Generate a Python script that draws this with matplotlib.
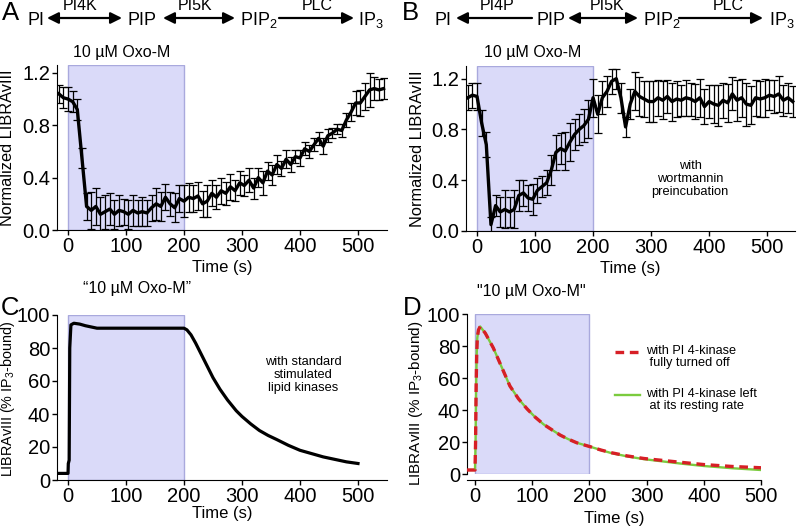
import numpy as np
import matplotlib
matplotlib.use('Agg')
import matplotlib.pyplot as plt
from matplotlib.lines import Line2D
from matplotlib.patches import FancyArrowPatch

plt.rcParams['font.family'] = ['Liberation Sans', 'DejaVu Sans']
plt.rcParams['mathtext.fontset'] = 'custom'
plt.rcParams['mathtext.rm'] = 'Liberation Sans'
plt.rcParams['mathtext.it'] = 'Liberation Sans:italic'
plt.rcParams['mathtext.default'] = 'regular'

# ---- data ----
t_exp = np.arange(-16, 545, 8)

a_mean = [1.04, 1.01, 1.00, 0.98, 0.92, 0.55, 0.18, 0.15, 0.18, 0.12,
          0.14, 0.16, 0.12, 0.15, 0.14, 0.12, 0.15, 0.13, 0.14, 0.13,
          0.17, 0.20, 0.18, 0.25, 0.20, 0.17, 0.24, 0.22, 0.25, 0.24,
          0.26, 0.20, 0.22, 0.28, 0.25, 0.30, 0.28, 0.33, 0.30, 0.36,
          0.34, 0.38, 0.32, 0.40, 0.36, 0.45, 0.42, 0.50, 0.47, 0.54,
          0.50, 0.56, 0.55, 0.62, 0.60, 0.65, 0.70, 0.64, 0.72, 0.74,
          0.77, 0.76, 0.84, 0.90, 0.97, 0.97, 1.02, 1.07, 1.08, 1.07,
          1.08]
a_err = [.07, .08, .09, .08, .08, .08, .10, .14, .14, .13,
         .13, .12, .11, .12, .10, .11, .12, .10, .11, .10,
         .10, .12, .11, .10, .09, .11, .10, .12, .11, .10,
         .11, .10, .12, .10, .09, .10, .09, .10, .08, .09,
         .08, .09, .08, .07, .09, .07, .08, .07, .06, .07,
         .06, .05, .06, .05, .05, .05, .05, .06, .05, .04,
         .04, .05, .05, .07, .09, .10, .10, .13, .09, .08,
         .08]

b_mean = [1.05, 1.07, 1.06, 0.85, 0.68, 0.05, 0.20, 0.15, 0.17, 0.15,
          0.17, 0.28, 0.30, 0.26, 0.25, 0.32, 0.35, 0.38, 0.48, 0.62,
          0.65, 0.63, 0.70, 0.76, 0.80, 0.83, 0.88, 1.05, 0.92, 1.05,
          1.10, 1.18, 1.20, 1.05, 0.82, 1.00, 1.10, 1.06, 1.04, 1.02,
          1.02, 1.05, 1.03, 1.06, 1.02, 1.04, 1.03, 1.05, 1.04, 1.02,
          1.05, 0.98, 1.02, 1.00, 0.99, 1.03, 1.01, 1.08, 1.03, 1.05,
          1.00, 0.99, 1.05, 1.04, 1.05, 1.07, 1.06, 1.08, 1.03, 1.05,
          1.02]
b_err = [.10, .10, .11, .10, .10, .06, .08, .12, .15, .12,
         .15, .12, .10, .10, .12, .10, .08, .10, .12, .14,
         .12, .15, .15, .12, .12, .13, .15, .15, .15, .13,
         .12, .10, .08, .12, .08, .12, .15, .15, .14, .16,
         .16, .14, .15, .13, .15, .14, .12, .14, .13, .14,
         .15, .14, .13, .15, .16, .14, .15, .13, .16, .15,
         .17, .15, .14, .14, .15, .12, .13, .14, .12, .12,
         .12]

c_t = [-20, 0, 0.5, 2, 3, 5, 10, 20, 30, 50, 200, 205, 212, 220, 230, 240,
       250, 262, 275, 290, 300, 315, 330, 345, 360, 380, 400, 420, 440,
       460, 480, 500]
c_y = [4, 4, 10, 12, 80, 94, 95, 94.5, 93.5, 92, 92, 91, 88, 83, 76, 69,
       62, 55, 48.5, 42, 38.5, 34, 30, 27, 24.5, 21, 18, 16, 14, 12.5,
       11, 10]

d_t = [-14, 0, 1, 2, 3, 4, 6, 9, 18, 32, 47, 61, 76, 91, 105, 120, 135,
       149, 163, 178, 202, 220, 237, 266, 295, 325, 360, 400, 450, 500]
d_off = [2.5, 2.5, 20, 55, 75, 85, 90, 92.2, 88, 78.8, 66.5, 55, 47, 40.7,
         35.6, 31, 27.5, 24.3, 21.8, 19.5, 17, 15, 13.4, 11.3, 9.7, 8.6,
         7.3, 5.9, 4.7, 3.9]
d_rest = [2.5, 2.5, 20, 55, 75, 85, 90, 92.2, 88, 78.8, 66.5, 55, 47, 40.7,
          35.6, 31, 27.5, 24.3, 21.8, 19.5, 17, 15, 13.2, 11.0, 9.3, 8.0,
          6.5, 5.0, 3.6, 2.5]

W, H = 800, 528
fig = plt.figure(figsize=(W / 100, H / 100), dpi=100, facecolor='white')

def box(l, r, top, bot):
    return [l / W, 1 - bot / H, (r - l) / W, (bot - top) / H]

def ftext(x, y, s, **kw):
    fig.text(x / W, 1 - y / H, s, **kw)

def farrow(x0, x1, y, style):
    fig.add_artist(FancyArrowPatch(
        (x0 / W, 1 - y / H), (x1 / W, 1 - y / H), transform=fig.transFigure,
        arrowstyle=style, mutation_scale=17, color='black', lw=1.6,
        shrinkA=0, shrinkB=0))

def fline(x0, x1, y, **kw):
    fig.add_artist(Line2D([x0 / W, x1 / W], [1 - y / H, 1 - y / H],
                          transform=fig.transFigure, **kw))

shade_face = '#dadaf9'
shade_edge = '#a9a9dd'
TICK = 14.5
LAB = 12

def style_ax(ax):
    ax.spines[['top', 'right']].set_visible(False)
    ax.tick_params(direction='out', length=3.5, width=1, labelsize=TICK, pad=1.5)
    ax.set_xticks([0, 100, 200, 300, 400, 500])

# ---- A ----
axA = fig.add_axes(box(57, 387, 65, 230))
axA.axvspan(0, 200, facecolor=shade_face, edgecolor=shade_edge, lw=1, zorder=0)
axA.errorbar(t_exp, a_mean, yerr=a_err, color='black', lw=2.4, elinewidth=0.9,
             capsize=2.8, capthick=0.9)
axA.set_xlim(-19, 550)
axA.set_ylim(0, 1.26)
axA.set_yticks([0, 0.4, 0.8, 1.2])
axA.set_yticklabels(['0.0', '0.4', '0.8', '1.2'])
style_ax(axA)
axA.set_ylabel('Normalized LIBRAvIII', fontsize=11.8)
axA.yaxis.set_label_coords(-0.127, 0.5)
axA.set_xlabel('Time (s)', fontsize=LAB)
axA.xaxis.set_label_coords(0.5, -0.18)
ftext(122, 57, '10 µM Oxo-M', fontsize=11.5, ha='center', va='baseline')

# ---- B ----
axB = fig.add_axes(box(466, 795, 66, 231))
axB.axvspan(0, 200, facecolor=shade_face, edgecolor=shade_edge, lw=1, zorder=0)
axB.errorbar(t_exp, b_mean, yerr=b_err, color='black', lw=2.4, elinewidth=0.9,
             capsize=2.8, capthick=0.9)
axB.set_xlim(-19, 548)
axB.set_ylim(0, 1.3)
axB.set_yticks([0, 0.4, 0.8, 1.2])
axB.set_yticklabels(['0.0', '0.4', '0.8', '1.2'])
style_ax(axB)
axB.set_ylabel('Normalized LIBRAvIII', fontsize=11.8)
axB.yaxis.set_label_coords(-0.125, 0.5)
axB.set_xlabel('Time (s)', fontsize=LAB)
axB.xaxis.set_label_coords(0.5, -0.18)
ftext(533, 57, '10 µM Oxo-M', fontsize=11.5, ha='center', va='baseline')
axB.text(367, 0.41, 'with\nwortmannin\npreincubation', fontsize=9.3,
         ha='center', va='center', linespacing=1.15)

# ---- C ----
axC = fig.add_axes(box(57, 387, 315, 480))
axC.axvspan(0, 200, facecolor=shade_face, edgecolor=shade_edge, lw=1, zorder=0)
axC.plot(c_t, c_y, color='black', lw=2.3)
axC.set_xlim(-19, 550)
axC.set_ylim(0, 100)
axC.set_yticks([0, 20, 40, 60, 80, 100])
style_ax(axC)
axC.set_ylabel('LIBRAvIII (% IP$_3$-bound)', fontsize=10.4)
axC.yaxis.set_label_coords(-0.12, 0.49)
axC.set_xlabel('Time (s)', fontsize=LAB)
axC.xaxis.set_label_coords(0.5, -0.158)
ftext(137, 293, '\u201c10 µM Oxo-M\u201d', fontsize=11.5, ha='center', va='baseline')
axC.text(405, 63.6, 'with standard\nstimulated\nlipid kinases', fontsize=9.3,
         ha='center', va='center', linespacing=1.15)

# ---- D ----
axD = fig.add_axes(box(467, 761, 314, 474))
axD.axvspan(0, 200, facecolor=shade_face, edgecolor=shade_edge, lw=1, zorder=0)
axD.plot(d_t, d_off, color='#d71f26', lw=2.4, ls=(0, (2.6, 1.7)), zorder=3)
axD.plot(d_t, d_rest, color='#7bcb3e', lw=1.7, zorder=2)
axD.set_xlim(-14, 500)
axD.set_ylim(0, 100)
axD.set_yticks([0, 20, 40, 60, 80, 100])
style_ax(axD)
axD.spines['bottom'].set_position(('outward', 4))
axD.set_ylabel('LIBRAvIII (% IP$_3$-bound)', fontsize=11)
axD.yaxis.set_label_coords(-0.143, 0.44)
axD.set_xlabel('Time (s)', fontsize=LAB)
axD.xaxis.set_label_coords(0.5, -0.23)
ftext(531, 296, '"10 µM Oxo-M"', fontsize=11.5, ha='center', va='baseline')

# legend drawn by hand to sit where the reference has it
fline(615, 640, 352, color='#d71f26', lw=2.4, ls=(0, (2.6, 1.7)))
ftext(646, 345, 'with PI 4-kinase\n fully turned off', fontsize=9.2,
      ha='left', va='top', linespacing=1.05)
fline(615, 640, 395, color='#7bcb3e', lw=1.7)
ftext(646, 388, 'with PI 4-kinase left\n at its resting rate', fontsize=9.2,
      ha='left', va='top', linespacing=1.05)

# ---- panel letters and reaction schemes ----
for x, y, s in [(2, 20, 'A'), (402, 20, 'B'), (1, 315, 'C'), (403, 315, 'D')]:
    ftext(x, y, s, fontsize=18.5, ha='left', va='baseline')

sk = dict(fontsize=13, va='baseline')
ek = dict(fontsize=11.5, ha='center', va='baseline')
ftext(36, 25, 'PI', ha='center', **sk)
farrow(47, 122, 18, '<|-|>')
ftext(80, 10.5, 'PI4K', **ek)
ftext(142, 25, 'PIP', ha='center', **sk)
farrow(163, 235, 18, '<|-|>')
ftext(195, 10.5, 'PI5K', **ek)
ftext(240, 25, 'PIP$_2$', ha='left', **sk)
farrow(279, 354, 18, '-|>')
ftext(317, 10.5, 'PLC', **ek)
ftext(358, 25, 'IP$_3$', ha='left', **sk)

ftext(443, 25, 'PI', ha='center', **sk)
farrow(532, 456, 18, '-|>')
ftext(497, 10.5, 'PI4P', **ek)
ftext(551, 25, 'PIP', ha='center', **sk)
farrow(568, 638, 18, '<|-|>')
ftext(607, 10.5, 'PI5K', **ek)
ftext(643, 25, 'PIP$_2$', ha='left', **sk)
farrow(679, 763, 18, '-|>')
ftext(728, 10.5, 'PLC', **ek)
ftext(769, 25, 'IP$_3$', ha='left', **sk)

fig.savefig('out.png', dpi=100, facecolor='white')
